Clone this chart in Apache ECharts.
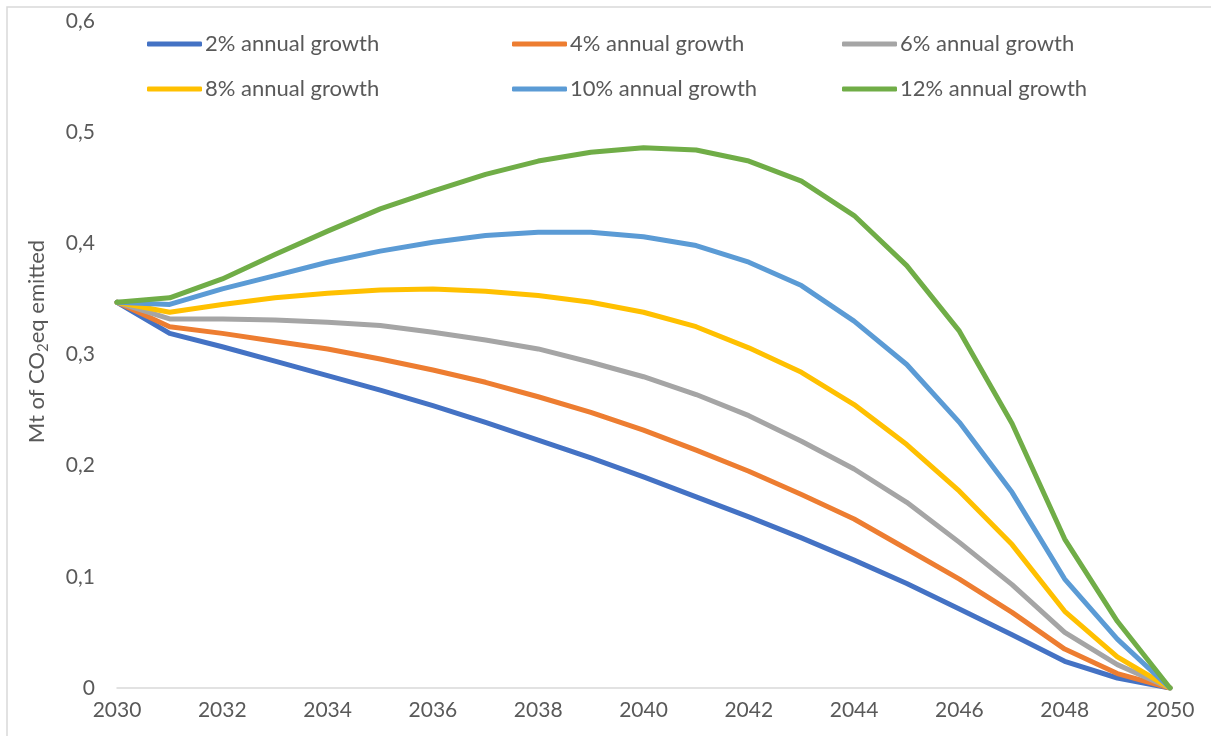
<!DOCTYPE html>
<html>
<head>
<meta charset="utf-8">
<script src="https://cdn.jsdelivr.net/npm/echarts@6/dist/echarts.min.js"></script>
<style>
  html, body { margin: 0; padding: 0; background: #ffffff; }
  #chart { width: 1211px; height: 736px; }
</style>
</head>
<body>
<div id="chart"></div>
<script>
// Years on the horizontal axis
const years = ['2030','2031','2032','2033','2034','2035','2036','2037','2038','2039','2040',
               '2041','2042','2043','2044','2045','2046','2047','2048','2049','2050'];

// Emissions (Mt CO2eq) per scenario
const growth2  = [0.347,0.319,0.307,0.294,0.281,0.268,0.254,0.239,0.223,0.207,0.190,0.172,0.154,0.135,0.115,0.094,0.071,0.048,0.024,0.009,0];
const growth4  = [0.347,0.325,0.319,0.312,0.305,0.296,0.286,0.275,0.262,0.248,0.232,0.214,0.195,0.174,0.152,0.125,0.098,0.068,0.035,0.013,0];
const growth6  = [0.347,0.332,0.332,0.331,0.329,0.326,0.320,0.313,0.305,0.293,0.280,0.264,0.245,0.222,0.197,0.167,0.131,0.093,0.050,0.021,0];
const growth8  = [0.347,0.338,0.345,0.351,0.355,0.358,0.359,0.357,0.353,0.347,0.338,0.325,0.306,0.284,0.255,0.219,0.177,0.129,0.069,0.028,0];
const growth10 = [0.347,0.345,0.359,0.371,0.383,0.393,0.401,0.407,0.410,0.410,0.406,0.398,0.383,0.362,0.330,0.291,0.239,0.176,0.098,0.044,0];
const growth12 = [0.347,0.351,0.368,0.390,0.411,0.431,0.447,0.462,0.474,0.482,0.486,0.484,0.474,0.456,0.425,0.380,0.321,0.238,0.134,0.060,0];

const seriesNames = ['2% annual growth','4% annual growth','6% annual growth',
                     '8% annual growth','10% annual growth','12% annual growth'];
const seriesData = [growth2, growth4, growth6, growth8, growth10, growth12];
const colors = ['#4472C4','#ED7D31','#A5A5A5','#FFC000','#5B9BD5','#70AD47'];

const yTicks = [0, 0.1, 0.2, 0.3, 0.4, 0.5, 0.6];

const FONT = 'Lato, "Open Sans", sans-serif';
const TEXT = '#595959';

// Legend laid out as 3 columns x 2 rows
const legendCols = [147, 512, 842];
const legendRows = [33, 78];
const legends = seriesNames.map((name, i) => ({
  data: [name],
  left: legendCols[i % 3],
  top: legendRows[Math.floor(i / 3)],
  icon: 'roundRect',
  itemWidth: 55,
  itemHeight: 5,
  itemGap: 0,
  padding: 0,
  textStyle: { color: TEXT, fontFamily: FONT, fontSize: 22, padding: [0, 0, 0, -2] }
}));

const chart = echarts.init(document.getElementById('chart'), null, { renderer: 'canvas' });
chart.setOption({
  animation: false,
  backgroundColor: '#ffffff',
  color: colors,
  graphic: [{
    type: 'rect',
    shape: { x: 7, y: 7, width: 1230, height: 760 },
    style: { fill: 'none', stroke: '#d9d9d9', lineWidth: 1.5 },
    silent: true, z: -1
  }],
  legend: legends,
  grid: { left: 117, right: 41, top: 21, bottom: 48, containLabel: false },
  xAxis: {
    type: 'category',
    data: years,
    boundaryGap: false,
    axisLine: { lineStyle: { color: '#d9d9d9', width: 1.5 } },
    axisTick: { show: false },
    axisLabel: { interval: 1, color: TEXT, fontFamily: FONT, fontSize: 21, margin: 12 },
    splitLine: { show: false }
  },
  yAxis: {
    type: 'value',
    min: yTicks[0],
    max: yTicks[yTicks.length - 1],
    interval: 0.1,
    axisLine: { show: false },
    axisTick: { show: false },
    splitLine: { show: false },
    axisLabel: {
      color: TEXT, fontFamily: FONT, fontSize: 21, margin: 22,
      formatter: v => (Math.round(v * 10) / 10).toString().replace('.', ',')
    },
    name: '{a|Mt of CO}{s|2}{a|eq emitted}',
    nameLocation: 'middle',
    nameGap: 66,
    nameRotate: 90,
    nameTextStyle: {
      padding: [0, 0, 0, 26],
      rich: {
        a: { color: TEXT, fontFamily: FONT, fontSize: 22, lineHeight: 28, verticalAlign: 'middle' },
        s: { color: TEXT, fontFamily: FONT, fontSize: 15, lineHeight: 28, verticalAlign: 'bottom', padding: [11, 0, 0, 0] }
      }
    }
  },
  series: seriesNames.map((name, i) => ({
    name,
    type: 'line',
    data: seriesData[i],
    showSymbol: false,
    symbol: 'none',
    lineStyle: { width: 5, color: colors[i], cap: 'round', join: 'round' },
    itemStyle: { color: colors[i] },
    z: 2 + i
  }))
});
</script>
</body>
</html>
